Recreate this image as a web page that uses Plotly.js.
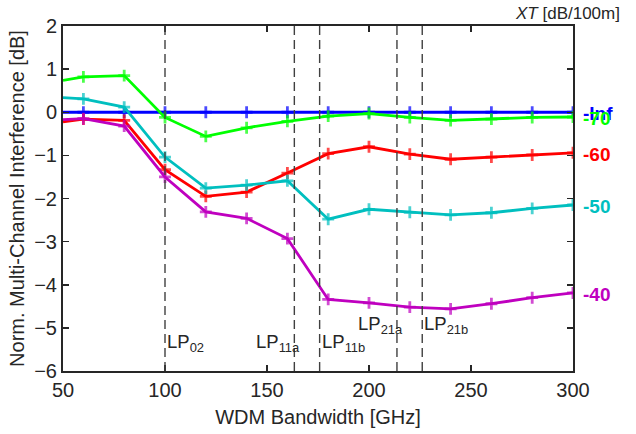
<!DOCTYPE html>
<html>
<head>
<meta charset="utf-8">
<script src="https://cdn.plot.ly/plotly-3.0.1.min.js"></script>
<style>html,body{margin:0;padding:0;background:#fff;}#chart{width:636px;height:434px;}</style>
</head>
<body>
<div id="chart"></div>
<script>
var bandwidth = [50, 60, 80, 100, 120, 140, 160, 180, 200, 220, 240, 260, 280, 300];
var xtInf = [0, 0, 0, 0, 0, 0, 0, 0, 0, 0, 0, 0, 0, 0];
var xt70 = [0.74, 0.82, 0.85, -0.12, -0.56, -0.36, -0.21, -0.09, -0.03, -0.12, -0.19, -0.16, -0.12, -0.11];
var xt60 = [-0.22, -0.16, -0.19, -1.33, -1.95, -1.85, -1.41, -0.96, -0.80, -0.97, -1.09, -1.04, -0.99, -0.94];
var xt50 = [0.34, 0.31, 0.12, -1.04, -1.76, -1.69, -1.59, -2.48, -2.25, -2.32, -2.38, -2.33, -2.23, -2.15];
var xt40 = [-0.17, -0.15, -0.32, -1.50, -2.31, -2.46, -2.93, -4.34, -4.42, -4.52, -4.56, -4.44, -4.30, -4.19];
var seriesLabels = ['-Inf', '-70', '-60', '-50', '-40'];
var modeCutoffs = [100, 163.4, 175.8, 213.7, 226.1];
var modeNames = ['LP<sub>02</sub>', 'LP<sub>11a</sub>', 'LP<sub>11b</sub>', 'LP<sub>21a</sub>', 'LP<sub>21b</sub>'];
var modeLabelY = [-5.36, -5.36, -5.36, -4.94, -4.94];
var modeLabelSide = ['right', 'left', 'right', 'left', 'right'];

var series = [
  {y: xtInf, color: '#0000ff', label: seriesLabels[0]},
  {y: xt70, color: '#00ff00', label: seriesLabels[1]},
  {y: xt60, color: '#ff0000', label: seriesLabels[2]},
  {y: xt50, color: '#00bfbf', label: seriesLabels[3]},
  {y: xt40, color: '#bf00bf', label: seriesLabels[4]}
];

var markerSizes = bandwidth.map(function(x){ return x === 50 ? 0 : 8.5; });

var traces = series.map(function(s){
  return {
    x: bandwidth, y: s.y, type: 'scatter', mode: 'lines+markers',
    line: {color: s.color, width: 2.8},
    marker: {symbol: 'cross-thin', size: markerSizes, line: {color: s.color, width: 2.8}},
    showlegend: false, hoverinfo: 'none'
  };
});

var shapes = modeCutoffs.map(function(x){
  return {type: 'line', xref: 'x', yref: 'paper', x0: x, x1: x, y0: 0, y1: 1,
    line: {color: '#404040', width: 1.4, dash: '9px,5px'}};
});

var fam = 'Liberation Sans, Arial, sans-serif';
var annotations = [];
modeCutoffs.forEach(function(x, i){
  var right = modeLabelSide[i] === 'right';
  annotations.push({x: x, y: modeLabelY[i], xref: 'x', yref: 'y', text: modeNames[i],
    showarrow: false, xanchor: right ? 'left' : 'right', yanchor: 'middle', xshift: right ? 0 : 8,
    font: {family: fam, size: 18.5, color: '#262626'}});
});
series.forEach(function(s){
  annotations.push({x: 1, y: s.y[s.y.length - 1], xref: 'paper', yref: 'y', text: '<b>' + s.label + '</b>',
    showarrow: false, xanchor: 'left', yanchor: 'middle', xshift: 8, yshift: -1.5,
    font: {family: fam, size: 19, color: s.color}});
});
annotations.push({x: 1, y: 1, xref: 'paper', yref: 'paper', text: '<i>XT</i> [dB/100m]',
  showarrow: false, xanchor: 'right', yanchor: 'bottom', xshift: 49, yshift: 1,
  font: {family: fam, size: 17, color: '#262626'}});

var axisFont = {family: fam, size: 20, color: '#262626'};
var layout = {
  width: 636, height: 434,
  margin: {l: 63, r: 63, t: 26, b: 63},
  paper_bgcolor: '#fff', plot_bgcolor: '#fff',
  font: axisFont,
  xaxis: {range: [50, 300], tickvals: [50, 100, 150, 200, 250, 300], ticks: 'inside', ticklen: 6,
    tickcolor: '#262626', tickwidth: 1.5, showline: true, linecolor: '#262626', linewidth: 2, mirror: 'ticks',
    showgrid: false, zeroline: false, tickfont: axisFont,
    title: {text: 'WDM Bandwidth [GHz]', font: axisFont, standoff: 10}},
  yaxis: {range: [-6, 2], tickvals: [-6, -5, -4, -3, -2, -1, 0, 1, 2], ticks: 'inside', ticklen: 6,
    tickcolor: '#262626', tickwidth: 1.5, showline: true, linecolor: '#262626', linewidth: 2, mirror: 'ticks',
    showgrid: false, zeroline: false, tickfont: axisFont,
    title: {text: 'Norm. Multi-Channel Interference [dB]', font: axisFont, standoff: 4}},
  shapes: shapes,
  annotations: annotations
};

Plotly.newPlot('chart', traces, layout, {displayModeBar: false, staticPlot: true});
</script>
</body>
</html>
